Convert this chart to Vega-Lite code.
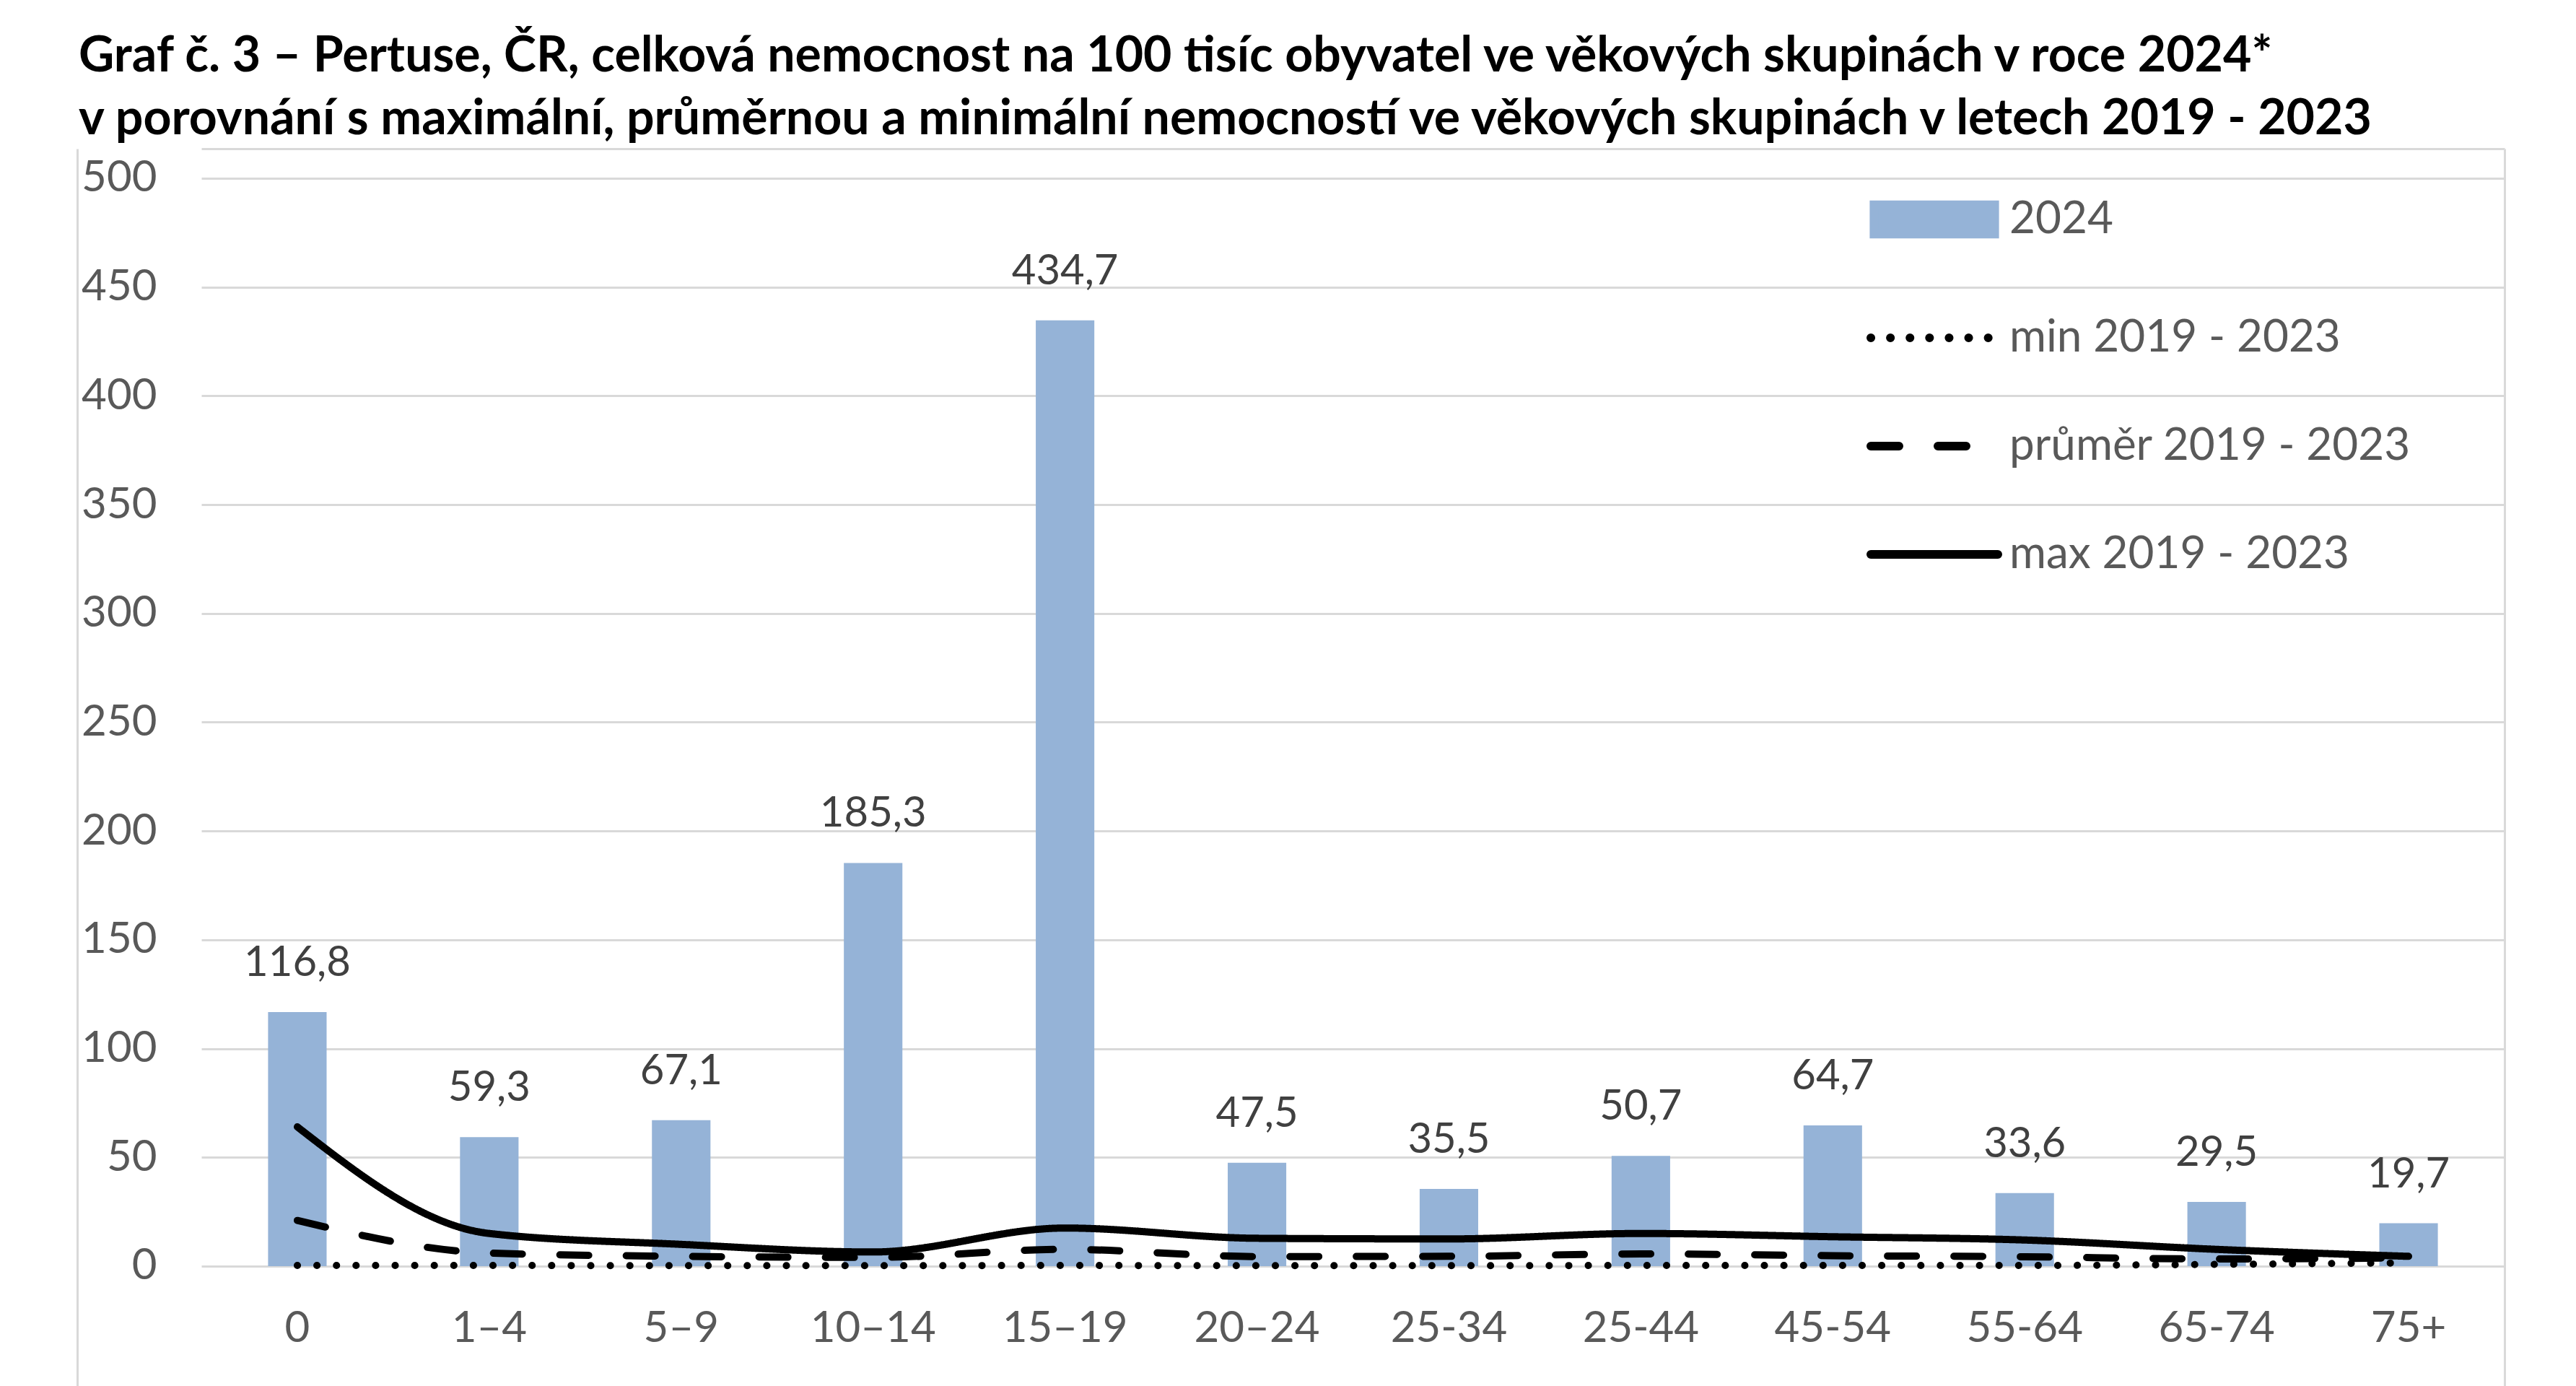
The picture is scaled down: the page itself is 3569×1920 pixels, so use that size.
{
  "$schema": "https://vega.github.io/schema/vega-lite/v6.json",
  "width": 3191,
  "height": 1714,
  "autosize": {"type": "none"},
  "padding": {"left": 279, "top": 206, "right": 99, "bottom": 0},
  "background": "#ffffff",
  "config": {
    "font": "Lato",
    "view": {"stroke": null},
    "locale": {
      "number": {"decimal": ",", "thousands": "\u00a0", "grouping": [3], "currency": ["", " Kč"]}
    }
  },
  "title": {
    "text": [
      "Graf č. 3 – Pertuse, ČR, celková nemocnost na 100 tisíc obyvatel ve věkových skupinách v roce 2024*",
      "v porovnání s maximální, průměrnou a minimální nemocností ve věkových skupinách v  letech 2019 - 2023"
    ],
    "anchor": "start",
    "frame": "group",
    "font": "Lato",
    "fontSize": 68,
    "fontWeight": "bold",
    "color": "#000000",
    "lineHeight": 87,
    "dx": -170,
    "dy": 4,
    "offset": 10
  },
  "datasets": {
    "nemocnost2024": [
      {"vek": "0", "hodnota": 116.8},
      {"vek": "1–4", "hodnota": 59.3},
      {"vek": "5–9", "hodnota": 67.1},
      {"vek": "10–14", "hodnota": 185.3},
      {"vek": "15–19", "hodnota": 434.7},
      {"vek": "20–24", "hodnota": 47.5},
      {"vek": "25-34", "hodnota": 35.5},
      {"vek": "25-44", "hodnota": 50.7},
      {"vek": "45-54", "hodnota": 64.7},
      {"vek": "55-64", "hodnota": 33.6},
      {"vek": "65-74", "hodnota": 29.5},
      {"vek": "75+", "hodnota": 19.7}
    ],
    "srovnani": [
      {"vek": "0", "serie": "min 2019 - 2023", "hodnota": 0.3},
      {"vek": "1–4", "serie": "min 2019 - 2023", "hodnota": 0.3},
      {"vek": "5–9", "serie": "min 2019 - 2023", "hodnota": 0.2},
      {"vek": "10–14", "serie": "min 2019 - 2023", "hodnota": 0.2},
      {"vek": "15–19", "serie": "min 2019 - 2023", "hodnota": 0.3},
      {"vek": "20–24", "serie": "min 2019 - 2023", "hodnota": 0.2},
      {"vek": "25-34", "serie": "min 2019 - 2023", "hodnota": 0.2},
      {"vek": "25-44", "serie": "min 2019 - 2023", "hodnota": 0.3},
      {"vek": "45-54", "serie": "min 2019 - 2023", "hodnota": 0.3},
      {"vek": "55-64", "serie": "min 2019 - 2023", "hodnota": 0.3},
      {"vek": "65-74", "serie": "min 2019 - 2023", "hodnota": 0.8},
      {"vek": "75+", "serie": "min 2019 - 2023", "hodnota": 1.5},
      {"vek": "0", "serie": "průměr 2019 - 2023", "hodnota": 21},
      {"vek": "1–4", "serie": "průměr 2019 - 2023", "hodnota": 6},
      {"vek": "5–9", "serie": "průměr 2019 - 2023", "hodnota": 4.5},
      {"vek": "10–14", "serie": "průměr 2019 - 2023", "hodnota": 4},
      {"vek": "15–19", "serie": "průměr 2019 - 2023", "hodnota": 7.7},
      {"vek": "20–24", "serie": "průměr 2019 - 2023", "hodnota": 4.4},
      {"vek": "25-34", "serie": "průměr 2019 - 2023", "hodnota": 4.5},
      {"vek": "25-44", "serie": "průměr 2019 - 2023", "hodnota": 5.6},
      {"vek": "45-54", "serie": "průměr 2019 - 2023", "hodnota": 4.8},
      {"vek": "55-64", "serie": "průměr 2019 - 2023", "hodnota": 4.3},
      {"vek": "65-74", "serie": "průměr 2019 - 2023", "hodnota": 3.3},
      {"vek": "75+", "serie": "průměr 2019 - 2023", "hodnota": 3.8},
      {"vek": "0", "serie": "max 2019 - 2023", "hodnota": 64},
      {"vek": "1–4", "serie": "max 2019 - 2023", "hodnota": 15},
      {"vek": "5–9", "serie": "max 2019 - 2023", "hodnota": 10},
      {"vek": "10–14", "serie": "max 2019 - 2023", "hodnota": 6.5},
      {"vek": "15–19", "serie": "max 2019 - 2023", "hodnota": 17.5},
      {"vek": "20–24", "serie": "max 2019 - 2023", "hodnota": 12.8},
      {"vek": "25-34", "serie": "max 2019 - 2023", "hodnota": 12.5},
      {"vek": "25-44", "serie": "max 2019 - 2023", "hodnota": 15},
      {"vek": "45-54", "serie": "max 2019 - 2023", "hodnota": 13.5},
      {"vek": "55-64", "serie": "max 2019 - 2023", "hodnota": 12},
      {"vek": "65-74", "serie": "max 2019 - 2023", "hodnota": 7.7},
      {"vek": "75+", "serie": "max 2019 - 2023", "hodnota": 4.5}
    ]
  },
  "resolve": {"axis": {"x": "independent", "y": "independent"}},
  "layer": [
    {
      "data": {"name": "nemocnost2024"},
      "mark": {"type": "bar", "width": {"band": 0.305}, "color": "#95B3D7"},
      "encoding": {
        "x": {
          "field": "vek",
          "type": "nominal",
          "scale": {
            "domain": ["0", "1–4", "5–9", "10–14", "15–19", "20–24", "25-34", "25-44", "45-54", "55-64", "65-74", "75+"],
            "paddingInner": 0,
            "paddingOuter": 0
          },
          "axis": {
            "orient": "bottom",
            "title": null,
            "domain": false,
            "ticks": false,
            "tickSize": 0,
            "grid": false,
            "labelAngle": 0,
            "labelFont": "Lato",
            "labelFontSize": 60,
            "labelColor": "#595959",
            "labelBaseline": "alphabetic",
            "labelPadding": -62
          }
        },
        "y": {
          "field": "hodnota",
          "type": "quantitative",
          "scale": {"domain": [-55.1, 513.6], "nice": false, "zero": false},
          "axis": {
            "orient": "left",
            "title": null,
            "values": [0, 50, 100, 150, 200, 250, 300, 350, 400, 450, 500],
            "offset": 172,
            "domain": true,
            "domainColor": "#D9D9D9",
            "domainWidth": 3,
            "ticks": false,
            "tickSize": 0,
            "grid": true,
            "gridColor": "#D9D9D9",
            "gridWidth": 3,
            "labelFont": "Lato",
            "labelFontSize": 60,
            "labelColor": "#595959",
            "labelAlign": "right",
            "labelBaseline": "middle",
            "labelPadding": -110
          }
        },
        "color": {
          "datum": "2024",
          "type": "nominal",
          "scale": {
            "domain": ["2024", "min 2019 - 2023", "průměr 2019 - 2023", "max 2019 - 2023"],
            "range": ["#95B3D7", "#000000", "#000000", "#000000"]
          },
          "legend": {
            "title": null,
            "orient": "none",
            "legendX": 2307,
            "legendY": 4,
            "padding": 0,
            "direction": "vertical",
            "symbolSize": 30976,
            "symbolStrokeWidth": 12,
            "rowPadding": 25,
            "labelOffset": 10,
            "labelFont": "Lato",
            "labelFontSize": 62,
            "labelColor": "#595959",
            "labelLimit": 1000,
            "encode": {
              "symbols": {
                "update": {
                  "shape": {"signal": "datum.value === '2024' ? 'M-0.95,-0.23H0.95V0.23H-0.95Z' : 'stroke'"},
                  "fill": {"signal": "datum.value === '2024' ? '#95B3D7' : 'transparent'"},
                  "stroke": {"signal": "datum.value === '2024' ? 'transparent' : '#000000'"},
                  "strokeWidth": {"value": 12},
                  "strokeCap": {"value": "round"},
                  "strokeDash": {"signal": "datum.value === 'min 2019 - 2023' ? [0.1, 27] : datum.value === 'průměr 2019 - 2023' ? [39, 54] : [1, 0]"},
                  "opacity": {"value": 1}
                }
              }
            }
          }
        }
      }
    },
    {
      "data": {"name": "srovnani"},
      "mark": {"type": "line", "strokeWidth": 10, "strokeCap": "round", "interpolate": "monotone"},
      "encoding": {
        "x": {
          "field": "vek",
          "type": "nominal",
          "axis": {
            "orient": "top",
            "title": null,
            "labels": false,
            "ticks": false,
            "grid": false,
            "domain": true,
            "domainColor": "#D9D9D9",
            "domainWidth": 3
          }
        },
        "y": {
          "field": "hodnota",
          "type": "quantitative",
          "axis": {
            "orient": "right",
            "title": null,
            "labels": false,
            "ticks": false,
            "grid": false,
            "domain": true,
            "domainColor": "#D9D9D9",
            "domainWidth": 3
          }
        },
        "color": {"field": "serie", "type": "nominal", "legend": {"title": null}},
        "strokeDash": {
          "field": "serie",
          "type": "nominal",
          "scale": {
            "domain": ["min 2019 - 2023", "průměr 2019 - 2023", "max 2019 - 2023"],
            "range": [[0.1, 27], [40, 52], [1, 0]]
          },
          "legend": null
        }
      }
    },
    {
      "data": {"name": "nemocnost2024"},
      "mark": {"type": "text", "baseline": "alphabetic", "align": "center", "dy": -50, "fontSize": 58, "font": "Lato", "color": "#404040"},
      "encoding": {
        "x": {"field": "vek", "type": "nominal", "axis": null},
        "y": {"field": "hodnota", "type": "quantitative", "axis": null},
        "text": {"field": "hodnota", "type": "quantitative", "format": ".1f"}
      }
    }
  ]
}
